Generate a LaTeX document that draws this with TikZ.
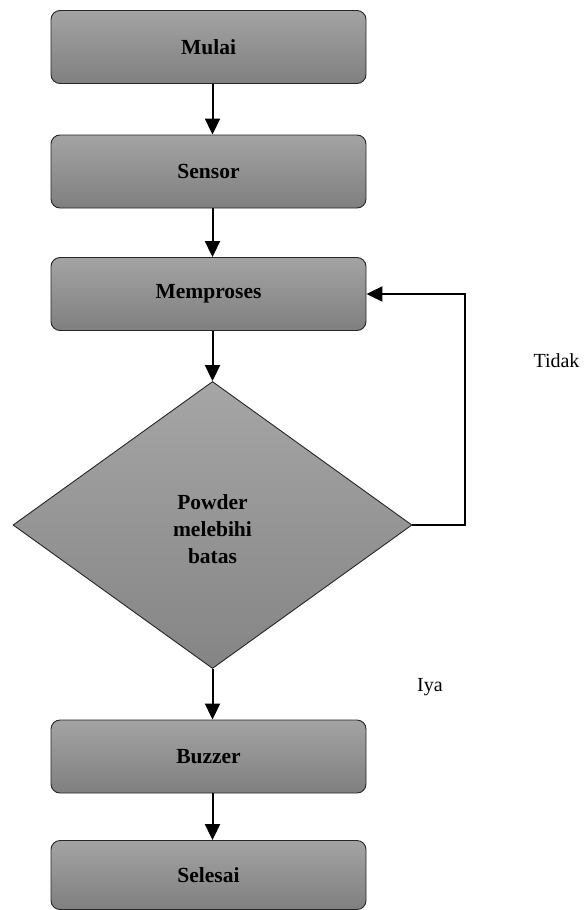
\documentclass[tikz,border=0pt]{standalone}
\usepackage{fontspec}
\setmainfont{Liberation Serif}
\usetikzlibrary{shapes.geometric,arrows.meta}
\begin{document}
\begin{tikzpicture}[x=1pt,y=1pt,
  box/.style={draw=black!85,line width=0.9pt,rounded corners=9pt,
    top color=black!36,bottom color=black!50,
    minimum width=315pt,minimum height=73pt,inner sep=0pt,
    font=\fontsize{21.5}{25}\selectfont\bfseries},
  dec/.style={draw=black!85,line width=0.9pt,shape=diamond,
    top color=black!35,bottom color=black!48,
    minimum width=399pt,minimum height=287pt,inner sep=0pt},
  dectext/.style={align=center,font=\fontsize{21.5}{27}\selectfont\bfseries},
  arr/.style={line width=2pt,-{Triangle[width=15pt,length=16pt]}},
  lbl/.style={font=\fontsize{20}{24}\selectfont},
]
\useasboundingbox (0,0) rectangle (584,-910);
\node[box] (mulai) at (208.5,-47) {Mulai};
\node[box] (sensor) at (208.5,-171.5) {Sensor};
\node[box] (proses) at (208.5,-294) {Memproses};
\node[dec] (dia) at (212.5,-525) {};
\node[dectext] (diatext) at (212.5,-529) {Powder\\melebihi\\batas};
\node[box] (buzzer) at (208.5,-756.5) {Buzzer};
\node[box,minimum height=69pt] (selesai) at (208.5,-875) {Selesai};
\coordinate (loop) at (465,-525);
\draw[arr] (mulai.south -| dia.north) -- (sensor.north -| dia.north);
\draw[arr] (sensor.south -| dia.north) -- (proses.north -| dia.north);
\draw[arr] (proses.south -| dia.north) -- (dia.north);
\draw[arr] (dia.south) -- (buzzer.north -| dia.south);
\draw[arr] (buzzer.south -| dia.south) -- (selesai.north -| dia.south);
\draw[arr] (dia.east) -- (loop) |- (proses.east);
\node[lbl,anchor=east] (tidak) at (583,-361) {Tidak};
\node[lbl] (iya) at (430,-687) {Iya};
\end{tikzpicture}
\end{document}
